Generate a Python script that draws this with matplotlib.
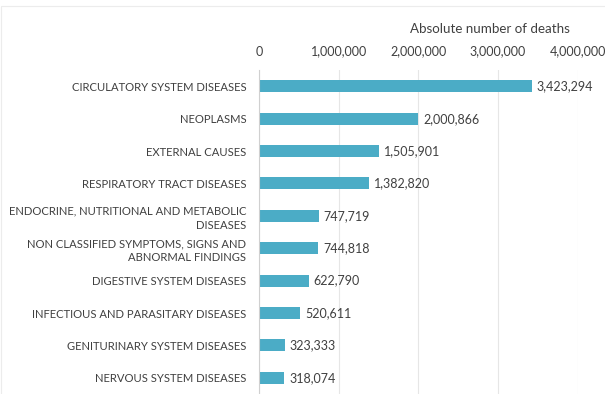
import matplotlib
matplotlib.use("Agg")
import matplotlib.pyplot as plt
from matplotlib.patches import Rectangle
from matplotlib.ticker import FuncFormatter

categories = [
    "CIRCULATORY SYSTEM DISEASES",
    "NEOPLASMS",
    "EXTERNAL CAUSES",
    "RESPIRATORY TRACT DISEASES",
    "ENDOCRINE, NUTRITIONAL AND METABOLIC\nDISEASES",
    "NON CLASSIFIED SYMPTOMS, SIGNS AND\nABNORMAL FINDINGS",
    "DIGESTIVE SYSTEM DISEASES",
    "INFECTIOUS AND PARASITARY DISEASES",
    "GENITURINARY SYSTEM DISEASES",
    "NERVOUS SYSTEM DISEASES",
]
deaths = [3423294, 2000866, 1505901, 1382820, 747719, 744818, 622790, 520611, 323333, 318074]
x_ticks = [0, 1000000, 2000000, 3000000, 4000000]

plt.rcParams["font.family"] = ["Lato", "DejaVu Sans"]
text_color = "#404040"
bar_color = "#4BACC6"

fig = plt.figure(figsize=(6.05, 3.94), dpi=100)
ax = fig.add_axes([0.428, 0.0, 0.527, 0.822])

pos = list(range(len(categories)))
ax.barh(pos, deaths, height=0.37, color=bar_color)
for p, v in zip(pos, deaths):
    ax.text(v + 60000, p, f"{v:,}", va="center", ha="left", fontsize=9, color=text_color)

ax.set_ylim(len(categories) - 0.5, -0.5)
ax.set_xlim(0, 4000000)
ax.set_yticks(pos)
ax.set_yticklabels(categories, fontsize=8.1, color=text_color, linespacing=1.35)
ax.set_xticks(x_ticks)
ax.xaxis.set_major_formatter(FuncFormatter(lambda v, _: f"{int(v):,}"))
ax.xaxis.tick_top()
ax.tick_params(axis="x", length=0, labelsize=9, labelcolor=text_color, pad=9)
ax.tick_params(axis="y", length=0, pad=9)

ax.grid(axis="x", color="#e6e6e6", linewidth=0.8)
ax.set_axisbelow(True)
for s in ["top", "right", "bottom"]:
    ax.spines[s].set_visible(False)
ax.spines["left"].set_color("#d0d0d0")
ax.spines["left"].set_linewidth(0.8)

fig.text(0.810, 0.927, "Absolute number of deaths", ha="center", va="center",
         fontsize=9.6, color=text_color)

fig.patches.append(Rectangle((0.002, -0.1), 1.1, 1.085, transform=fig.transFigure,
                             fill=False, edgecolor="#ececec", linewidth=0.8))

fig.savefig("out.png", dpi=100)
